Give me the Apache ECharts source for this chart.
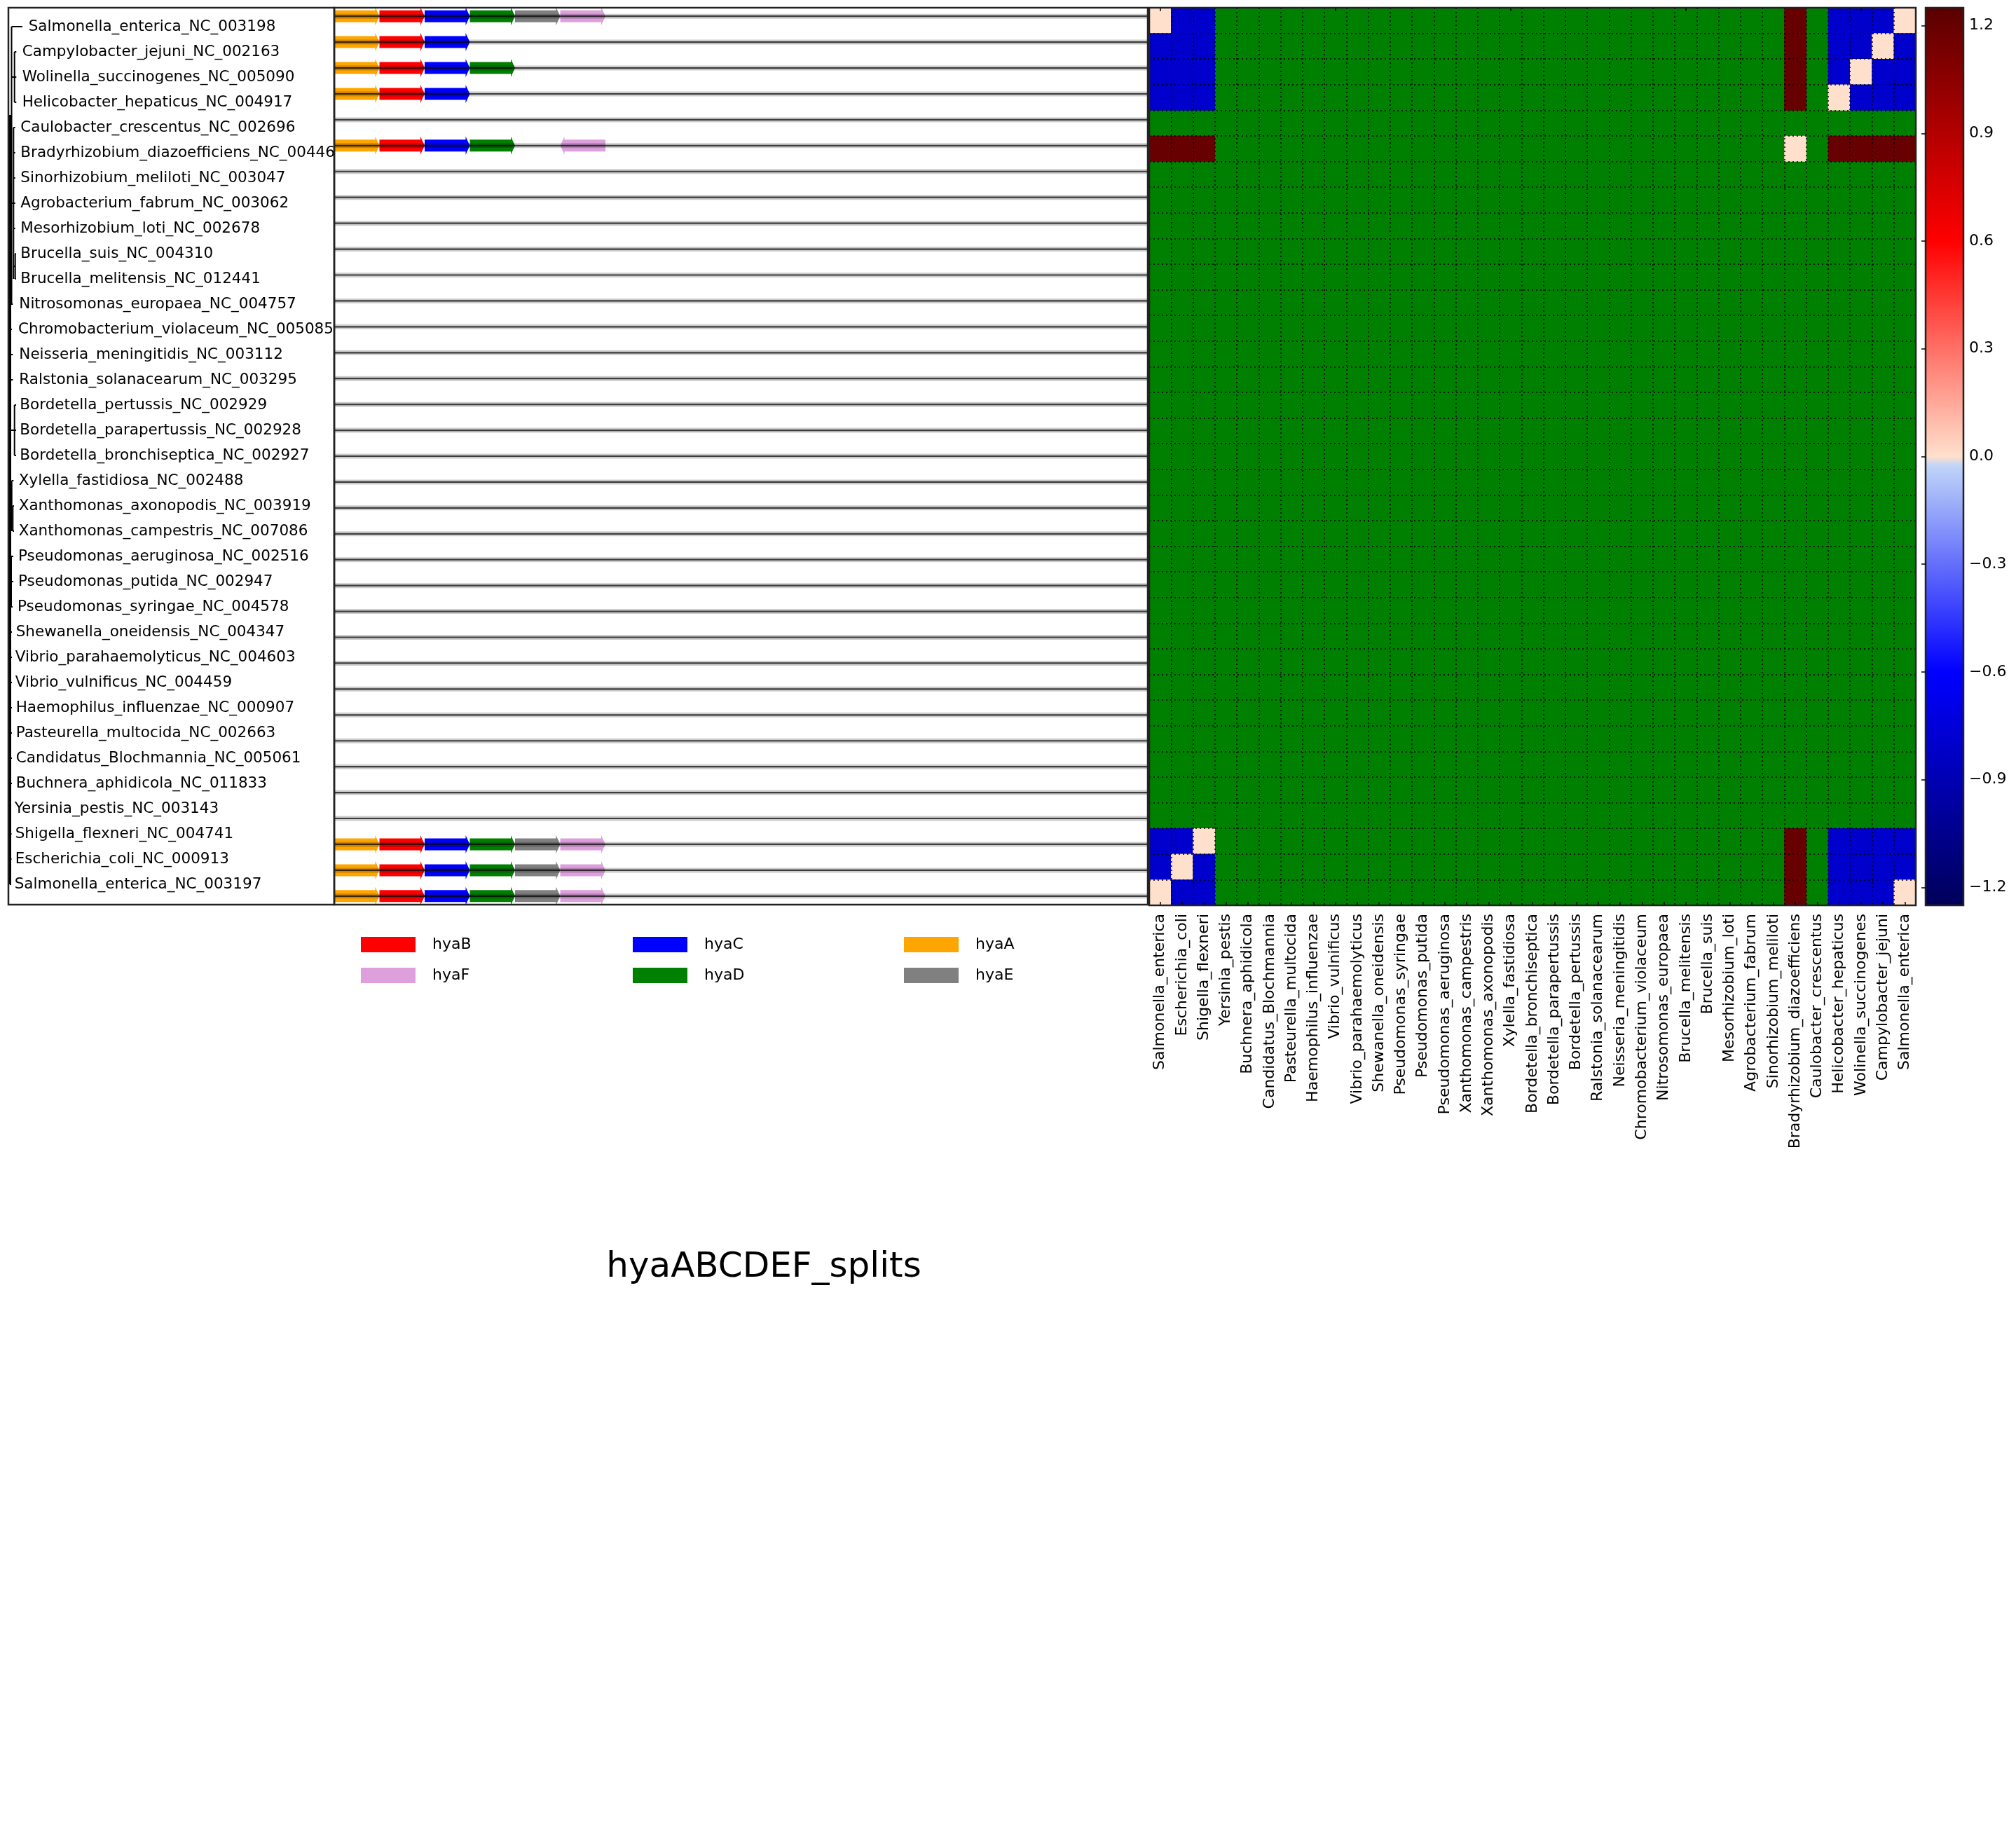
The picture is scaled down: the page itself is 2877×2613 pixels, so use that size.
<!DOCTYPE html>
<html><head><meta charset="utf-8">
<script src="https://cdn.jsdelivr.net/npm/echarts@6/dist/echarts.min.js"></script>
<style>html,body{margin:0;padding:0;background:#fff}#c{width:2877px;height:2613px}</style>
</head><body><div id="c"></div><script>
// ---------- DATA ----------
const rowLabels = ['Salmonella_enterica_NC_003198','Campylobacter_jejuni_NC_002163','Wolinella_succinogenes_NC_005090','Helicobacter_hepaticus_NC_004917','Caulobacter_crescentus_NC_002696','Bradyrhizobium_diazoefficiens_NC_004463','Sinorhizobium_meliloti_NC_003047','Agrobacterium_fabrum_NC_003062','Mesorhizobium_loti_NC_002678','Brucella_suis_NC_004310','Brucella_melitensis_NC_012441','Nitrosomonas_europaea_NC_004757','Chromobacterium_violaceum_NC_005085','Neisseria_meningitidis_NC_003112','Ralstonia_solanacearum_NC_003295','Bordetella_pertussis_NC_002929','Bordetella_parapertussis_NC_002928','Bordetella_bronchiseptica_NC_002927','Xylella_fastidiosa_NC_002488','Xanthomonas_axonopodis_NC_003919','Xanthomonas_campestris_NC_007086','Pseudomonas_aeruginosa_NC_002516','Pseudomonas_putida_NC_002947','Pseudomonas_syringae_NC_004578','Shewanella_oneidensis_NC_004347','Vibrio_parahaemolyticus_NC_004603','Vibrio_vulnificus_NC_004459','Haemophilus_influenzae_NC_000907','Pasteurella_multocida_NC_002663','Candidatus_Blochmannia_NC_005061','Buchnera_aphidicola_NC_011833','Yersinia_pestis_NC_003143','Shigella_flexneri_NC_004741','Escherichia_coli_NC_000913','Salmonella_enterica_NC_003197'];
const colLabels = ['Salmonella_enterica','Escherichia_coli','Shigella_flexneri','Yersinia_pestis','Buchnera_aphidicola','Candidatus_Blochmannia','Pasteurella_multocida','Haemophilus_influenzae','Vibrio_vulnificus','Vibrio_parahaemolyticus','Shewanella_oneidensis','Pseudomonas_syringae','Pseudomonas_putida','Pseudomonas_aeruginosa','Xanthomonas_campestris','Xanthomonas_axonopodis','Xylella_fastidiosa','Bordetella_bronchiseptica','Bordetella_parapertussis','Bordetella_pertussis','Ralstonia_solanacearum','Neisseria_meningitidis','Chromobacterium_violaceum','Nitrosomonas_europaea','Brucella_melitensis','Brucella_suis','Mesorhizobium_loti','Agrobacterium_fabrum','Sinorhizobium_meliloti','Bradyrhizobium_diazoefficiens','Caulobacter_crescentus','Helicobacter_hepaticus','Wolinella_succinogenes','Campylobacter_jejuni','Salmonella_enterica'];
const geneNames = ['hyaA','hyaB','hyaC','hyaD','hyaE','hyaF'];
// gene hits: [row, gene, start, end, strand]
const geneHits = [
  [0,'hyaA',0,1,1],[0,'hyaB',1,2,1],[0,'hyaC',2,3,1],[0,'hyaD',3,4,1],[0,'hyaE',4,5,1],[0,'hyaF',5,6,1],
  [1,'hyaA',0,1,1],[1,'hyaB',1,2,1],[1,'hyaC',2,3,1],
  [2,'hyaA',0,1,1],[2,'hyaB',1,2,1],[2,'hyaC',2,3,1],[2,'hyaD',3,4,1],
  [3,'hyaA',0,1,1],[3,'hyaB',1,2,1],[3,'hyaC',2,3,1],
  [5,'hyaA',0,1,1],[5,'hyaB',1,2,1],[5,'hyaC',2,3,1],[5,'hyaD',3,4,1],[5,'hyaF',5,6,-1],
  [32,'hyaA',0,1,1],[32,'hyaB',1,2,1],[32,'hyaC',2,3,1],[32,'hyaD',3,4,1],[32,'hyaE',4,5,1],[32,'hyaF',5,6,1],
  [33,'hyaA',0,1,1],[33,'hyaB',1,2,1],[33,'hyaC',2,3,1],[33,'hyaD',3,4,1],[33,'hyaE',4,5,1],[33,'hyaF',5,6,1],
  [34,'hyaA',0,1,1],[34,'hyaB',1,2,1],[34,'hyaC',2,3,1],[34,'hyaD',3,4,1],[34,'hyaE',4,5,1],[34,'hyaF',5,6,1]
];
const genomeLength = 18;
// heatmap cells with values (row, col, value); every other cell has no value (green)
const cellValues = [
  [0,0,0],[0,1,-0.8],[0,2,-0.8],[0,29,1.2],[0,31,-0.8],[0,32,-0.8],[0,33,-0.8],[0,34,0],
  [1,0,-0.8],[1,1,-0.8],[1,2,-0.8],[1,29,1.2],[1,31,-0.8],[1,32,-0.8],[1,33,0],[1,34,-0.8],
  [2,0,-0.8],[2,1,-0.8],[2,2,-0.8],[2,29,1.2],[2,31,-0.8],[2,32,0],[2,33,-0.8],[2,34,-0.8],
  [3,0,-0.8],[3,1,-0.8],[3,2,-0.8],[3,29,1.2],[3,31,0],[3,32,-0.8],[3,33,-0.8],[3,34,-0.8],
  [5,0,1.2],[5,1,1.2],[5,2,1.2],[5,29,0],[5,31,1.2],[5,32,1.2],[5,33,1.2],[5,34,1.2],
  [32,0,-0.8],[32,1,-0.8],[32,2,0],[32,29,1.2],[32,31,-0.8],[32,32,-0.8],[32,33,-0.8],[32,34,-0.8],
  [33,0,-0.8],[33,1,0],[33,2,-0.8],[33,29,1.2],[33,31,-0.8],[33,32,-0.8],[33,33,-0.8],[33,34,-0.8],
  [34,0,0],[34,1,-0.8],[34,2,-0.8],[34,29,1.2],[34,31,-0.8],[34,32,-0.8],[34,33,-0.8],[34,34,0]
];
const colorbarTicks = [-1.2,-0.9,-0.6,-0.3,0,0.3,0.6,0.9,1.2];
const colorRange = [-1.25, 1.25];
// dendrogram: label offsets per row, branch segments [x1,row1,x2,row2]
const labelOffset = [28.7,19.7,19.7,19.7,17.3,17.3,17.3,17.3,17.3,17.3,17.3,15.3,14,15.3,15.3,16.3,16.3,16.3,14.7,14.7,14.7,14,14,13,10.7,9.7,9.7,10.7,10.7,10.7,10.7,8.7,9.7,9.7,8.7];
const treeSegments = [
  [4.5,0,4.5,11],[4.5,0,20,0],
  [8.7,1,8.7,3],[4.5,2,8.7,2],[8.7,1,11.3,1],[8.7,2,11.3,2],[8.7,3,11.3,3],
  [2,3.5,2,34],[3,3.5,3,34],
  [7.3,4,7.3,10],[3,7,7.3,7],[7.3,4,9.7,4],[7.3,5,9.7,5],[7.3,6,9.7,6],[7.3,7,9.7,7],[7.3,8,9.7,8],
  [9.7,9,9.7,10],[7.3,9.5,9.7,9.5],[9.7,9,11,9],[9.7,10,11,10],
  [2,11,6.3,11],[2,12,5,12],[2,13,6.3,13],[2,14,6.3,14],
  [8.7,15,8.7,17],[2,16,8.7,16],[8.7,15,11,15],[8.7,16,11,16],[8.7,17,11,17],
  [4.7,18,4.7,20],[2,19,4.7,19],[4.7,18,7.3,18],[6.3,19,6.3,20],[4.7,19.5,6.3,19.5],[6.3,19,8,19],[6.3,20,8,20],
  [4,21,4,23],[2,22,4,22],[4,21,7,21],[4,22,7,22],[4,23,6,23],
  [2,24,5,24],[3,25,3,26],[3,25,5,25],[3,26,5,26],
  [2,27,5,27],[2,28,5,28],[2,29,5,29],[2,30,5,30],
  [2,31,4,31],[2,32,4.5,32],[2,33,4.5,33],[2,34,4,34]
];

// ---------- STYLE ----------
const geneColors = {hyaA:'#ffa500',hyaB:'#ff0000',hyaC:'#0000ff',hyaD:'#008000',hyaE:'#808080',hyaF:'#dda0dd'};
const FONT = '"DejaVu Sans", sans-serif';
function cmap(v){
  const lerp=(a,b,t)=>a.map((x,i)=>Math.round(x+(b[i]-x)*t));
  let c;
  if (v<0){ const t=-v; c = t<=0.6 ? lerp([200,222,248],[0,0,255],t/0.6) : lerp([0,0,255],[0,0,90],(t-0.6)/0.65); }
  else { c = v<=0.6 ? lerp([255,224,204],[255,0,0],v/0.6) : lerp([255,0,0],[90,0,0],(v-0.6)/0.65); }
  return 'rgb('+c.join(',')+')';
}
const NSTOP = 501;
const cmapColors = Array.from({length:NSTOP},(_,i)=>cmap(colorRange[0]+(colorRange[1]-colorRange[0])*i/(NSTOP-1)));

// layout
const L = {
  left:{x:12,y:11,w:465,h:1280},
  gene:{x:477,y:11,w:1161,h:1280},
  heat:{x:1640,y:11,w:1094,h:1281},
  cbar:{x:2748,y:11,w:54,h:1281}
};

const chart = echarts.init(document.getElementById('c'), null, {renderer:'canvas'});

const series = [];
// tree
series.push({
  type:'custom', name:'tree', xAxisIndex:0, yAxisIndex:0, clip:true, silent:true,
  data: treeSegments,
  renderItem:(p,api)=>{
    const a=api.coord([api.value(0),api.value(1)]), b=api.coord([api.value(2),api.value(3)]);
    return {type:'line', shape:{x1:a[0],y1:a[1],x2:b[0],y2:b[1]}, style:{stroke:'#000',lineWidth:2}};
  }
});
// row labels
series.push({
  type:'custom', name:'labels', xAxisIndex:0, yAxisIndex:0, clip:true, silent:true,
  data: rowLabels.map((n,i)=>[labelOffset[i], i]),
  renderItem:(p,api)=>{
    const a=api.coord([api.value(0),api.value(1)]);
    return {type:'text', x:a[0], y:a[1], style:{text:rowLabels[p.dataIndex], fill:'#000', font:'21.5px '+FONT, align:'left', verticalAlign:'middle'}};
  }
});
// genes
geneNames.forEach(g=>{
  series.push({
    type:'custom', name:g, xAxisIndex:1, yAxisIndex:1, z:2, silent:true,
    itemStyle:{color:geneColors[g]},
    data: geneHits.filter(h=>h[1]===g).map(h=>[h[2],h[3],h[0],h[4]]),
    renderItem:(p,api)=>{
      const s=api.coord([api.value(0),api.value(2)]), e=api.coord([api.value(1),api.value(2)]);
      const y=s[1], sh=8.5, hh=13, hl=6;
      let pts;
      if (api.value(3)>0){
        const x0=s[0], x1=e[0];
        pts=[[x0,y-sh],[x1-hl,y-sh],[x1-hl,y-hh],[x1,y],[x1-hl,y+hh],[x1-hl,y+sh],[x0,y+sh]];
      } else {
        const x0=e[0], x1=s[0];
        pts=[[x0,y-sh],[x1+hl,y-sh],[x1+hl,y-hh],[x1,y],[x1+hl,y+hh],[x1+hl,y+sh],[x0,y+sh]];
      }
      return {type:'polygon', shape:{points:pts}, style:{fill:geneColors[g]}};
    }
  });
});
// genome lines
series.push({
  type:'custom', name:'genome', xAxisIndex:1, yAxisIndex:1, z:3, silent:true,
  data: rowLabels.map((n,i)=>[0,genomeLength,i]),
  renderItem:(p,api)=>{
    const a=api.coord([api.value(0),api.value(2)]), b=api.coord([api.value(1),api.value(2)]);
    return {type:'group', children:[
      {type:'line', shape:{x1:a[0],y1:a[1],x2:b[0],y2:b[1]}, style:{stroke:'rgba(0,0,0,0.2)',lineWidth:7}},
      {type:'line', shape:{x1:a[0],y1:a[1],x2:b[0],y2:b[1]}, style:{stroke:'rgba(0,0,0,0.7)',lineWidth:2.2}}
    ]};
  }
});
// heatmap
const HEAT_IDX = series.length;
series.push({
  type:'heatmap', name:'splits', xAxisIndex:2, yAxisIndex:2, silent:true,
  data: cellValues.map(c=>[c[1],c[0],c[2]]),
  itemStyle:{borderWidth:0}, progressive:0
});

const hiddenVal = (gi,min,max,inv)=>({type:'value',gridIndex:gi,min,max,inverse:!!inv,show:false});
const fmt = v => (v<0?'\u2212':'')+Math.abs(v).toFixed(1);

chart.setOption({
  animation:false,
  backgroundColor:'#fff',
  textStyle:{fontFamily:FONT},
  grid:[
    {left:L.left.x,top:L.left.y,width:L.left.w,height:L.left.h,show:true,borderColor:'#222',borderWidth:2.5,backgroundColor:'transparent',z:5},
    {left:L.gene.x,top:L.gene.y,width:L.gene.w,height:L.gene.h,show:true,borderColor:'#222',borderWidth:2.5,backgroundColor:'transparent',z:5},
    {left:L.heat.x,top:L.heat.y,width:L.heat.w,height:L.heat.h,show:true,borderWidth:0,backgroundColor:'#008000',z:0},
    {left:L.heat.x,top:L.heat.y,width:L.heat.w,height:L.heat.h,show:true,borderColor:'#222',borderWidth:2.5,backgroundColor:'transparent',z:12},
    {left:L.cbar.x,top:L.cbar.y,width:L.cbar.w,height:L.cbar.h,show:true,borderColor:'#222',borderWidth:2.5,backgroundColor:'transparent',z:12}
  ],
  xAxis:[
    hiddenVal(0,0,L.left.w),
    hiddenVal(1,0,genomeLength),
    {type:'category',gridIndex:2,data:colLabels,position:'bottom',z:10,
      axisLine:{show:false},
      axisTick:{show:true,inside:true,alignWithLabel:true,length:5,lineStyle:{color:'#000',width:1.5}},
      axisLabel:{rotate:90,interval:0,fontSize:22,fontFamily:FONT,color:'#000',margin:12},
      splitLine:{show:true,interval:0,lineStyle:{type:[2,4],color:'#000',width:1.5}}},
    {type:'category',gridIndex:2,data:colLabels,position:'top',z:10,
      axisLine:{show:false},
      axisTick:{show:true,inside:true,alignWithLabel:true,length:5,lineStyle:{color:'#000',width:1.5}},
      axisLabel:{show:false},splitLine:{show:false}},
    hiddenVal(3,0,1),
    hiddenVal(4,0,1)
  ],
  yAxis:[
    hiddenVal(0,-0.75,34.806,true),
    hiddenVal(1,-0.33,34.33,true),
    {type:'category',gridIndex:2,data:rowLabels,inverse:true,z:10,
      axisLine:{show:false},axisTick:{show:false},axisLabel:{show:false},
      splitLine:{show:true,interval:0,lineStyle:{type:[2,4],color:'#000',width:1.5}}},
    hiddenVal(3,0,1),
    {type:'value',gridIndex:4,min:colorRange[0],max:colorRange[1],position:'right',z:13,
      axisLine:{show:false},splitLine:{show:false},
      axisTick:{show:true,inside:true,length:6,customValues:colorbarTicks,lineStyle:{color:'#000',width:1.5}},
      axisLabel:{show:true,customValues:colorbarTicks,formatter:fmt,fontSize:22,fontFamily:FONT,color:'#000',margin:8}}
  ],
  visualMap:[{
    type:'continuous',min:colorRange[0],max:colorRange[1],seriesIndex:HEAT_IDX,dimension:2,
    inRange:{color:cmapColors},calculable:false,show:true,hoverLink:false,
    orient:'vertical',left:L.cbar.x,top:L.cbar.y,itemWidth:L.cbar.w,itemHeight:L.cbar.h,padding:0,text:null
  }],
  legend:[
    {data:['hyaB','hyaF'],left:515,top:1337},
    {data:['hyaC','hyaD'],left:903,top:1337},
    {data:['hyaA','hyaE'],left:1290,top:1337}
  ].map(l=>Object.assign({orient:'vertical',icon:'rect',itemWidth:78,itemHeight:22,itemGap:22,padding:0,selectedMode:false,
    textStyle:{fontSize:22,fontFamily:FONT,color:'#000',padding:[0,0,0,19]}},l)),
  graphic:[{type:'text',x:1090,y:1809,style:{text:'hyaABCDEF_splits',font:'50px '+FONT,fill:'#000',align:'center',verticalAlign:'middle'}}],
  series
});
</script></body></html>
